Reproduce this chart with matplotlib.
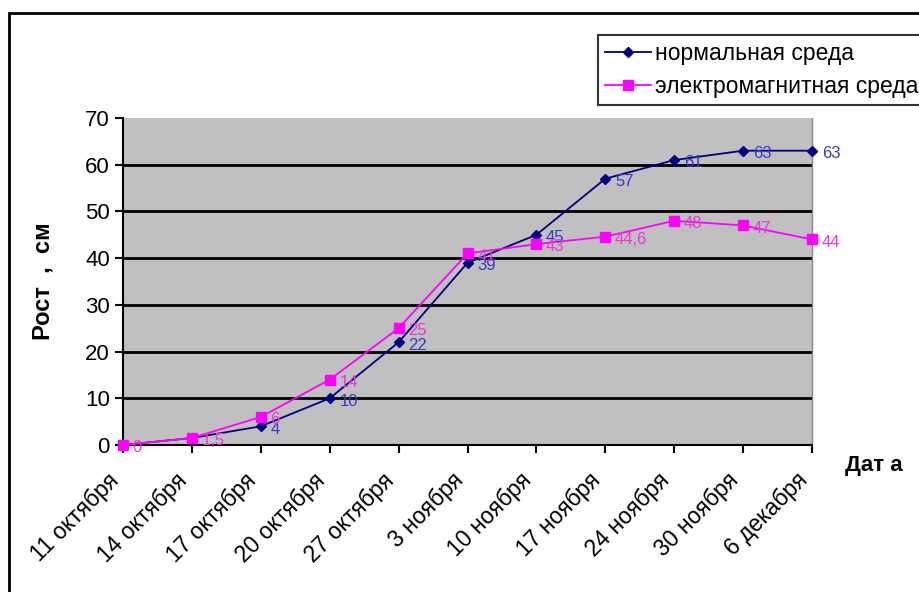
import matplotlib
matplotlib.use("Agg")
import matplotlib.pyplot as plt
from matplotlib.patches import Rectangle
from matplotlib.transforms import ScaledTranslation

plt.rcParams['font.family'] = ['Liberation Sans', 'DejaVu Sans']

dates = ["11 октября", "14 октября", "17 октября", "20 октября", "27 октября",
         "3 ноября", "10 ноября", "17 ноября", "24 ноября", "30 ноября", "6 декабря"]
normal = [0, 1.5, 4, 10, 22, 39, 45, 57, 61, 63, 63]
electro = [0, 1.5, 6, 14, 25, 41, 43, 44.6, 48, 47, 44]
normal_labels = ["", "", "4", "10", "22", "39", "45", "57", "61", "63", "63"]
electro_labels = ["0", "1,5", "6", "14", "25", "41", "43", "44,6", "48", "47", "44"]
yticks = [0, 10, 20, 30, 40, 50, 60, 70]

fig = plt.figure(figsize=(9.19, 5.92), dpi=100)
ax = fig.add_axes([123/919, 1-445/592, (812-123)/919, (445-118)/592])
ax.set_facecolor('#c0c0c0')

x = list(range(len(dates)))
ax.plot(x, normal, color='#000080', marker='D', markersize=5, lw=1.3,
        label='нормальная среда', zorder=3, clip_on=False)
ax.plot(x, electro, color='#ff00ff', marker='s', markersize=7, lw=1.3,
        label='электромагнитная среда', zorder=4, clip_on=False)

for xi, v, t in zip(x, normal, normal_labels):
    if t:
        ax.annotate(t, (xi, v), xytext=(7, -2), textcoords='offset points',
                    va='center', ha='left', color='#3838c8', fontsize=12,
                    annotation_clip=False, zorder=5)
for xi, v, t in zip(x, electro, electro_labels):
    ax.annotate(t, (xi, v), xytext=(7, -2), textcoords='offset points',
                va='center', ha='left', color='#e838d8', fontsize=12,
                annotation_clip=False, zorder=5)

ax.set_xlim(0, len(dates) - 1)
ax.set_ylim(0, 70)
ax.set_yticks(yticks)
ax.set_yticklabels([str(v) for v in yticks], fontsize=16)
ax.set_xticks(x)
ax.set_xticklabels(dates, rotation=45, ha='right', va='center', fontsize=16.5,
                   rotation_mode='anchor')
ax.tick_params(axis='both', direction='out', length=6, width=1.5, color='black')
ax.tick_params(axis='x', pad=17)
shift = ScaledTranslation(-8/100, 0, fig.dpi_scale_trans)
for lab in ax.get_xticklabels():
    lab.set_transform(lab.get_transform() + shift)

for yv in yticks[1:-1]:
    ax.axhline(yv, color='black', lw=2, zorder=1)

ax.spines['top'].set_visible(False)
ax.spines['right'].set_color('#888888')
ax.spines['right'].set_linewidth(1)
ax.spines['left'].set_linewidth(1.5)
ax.spines['bottom'].set_linewidth(1.5)

ax.set_ylabel('Рост  ,  см', fontsize=17, fontweight='bold', labelpad=22)
fig.text(845/919, 1-465/592, 'Дат а', fontsize=16, fontweight='bold',
         ha='left', va='center')

leg = fig.legend(loc='upper left', bbox_to_anchor=(598/919, 1-35/592),
                 borderaxespad=0, fontsize=16.5, frameon=True, fancybox=False,
                 handlelength=2.0, handletextpad=0.2, borderpad=0.3,
                 labelspacing=0.45)
leg.get_frame().set_edgecolor('black')
leg.get_frame().set_linewidth(1.5)

fig.add_artist(Rectangle((9/919, -0.1), 1.2, 1.1 - 13/592,
                         transform=fig.transFigure, fill=False, lw=2,
                         edgecolor='black', clip_on=False))

fig.savefig('out.png', dpi=100)
